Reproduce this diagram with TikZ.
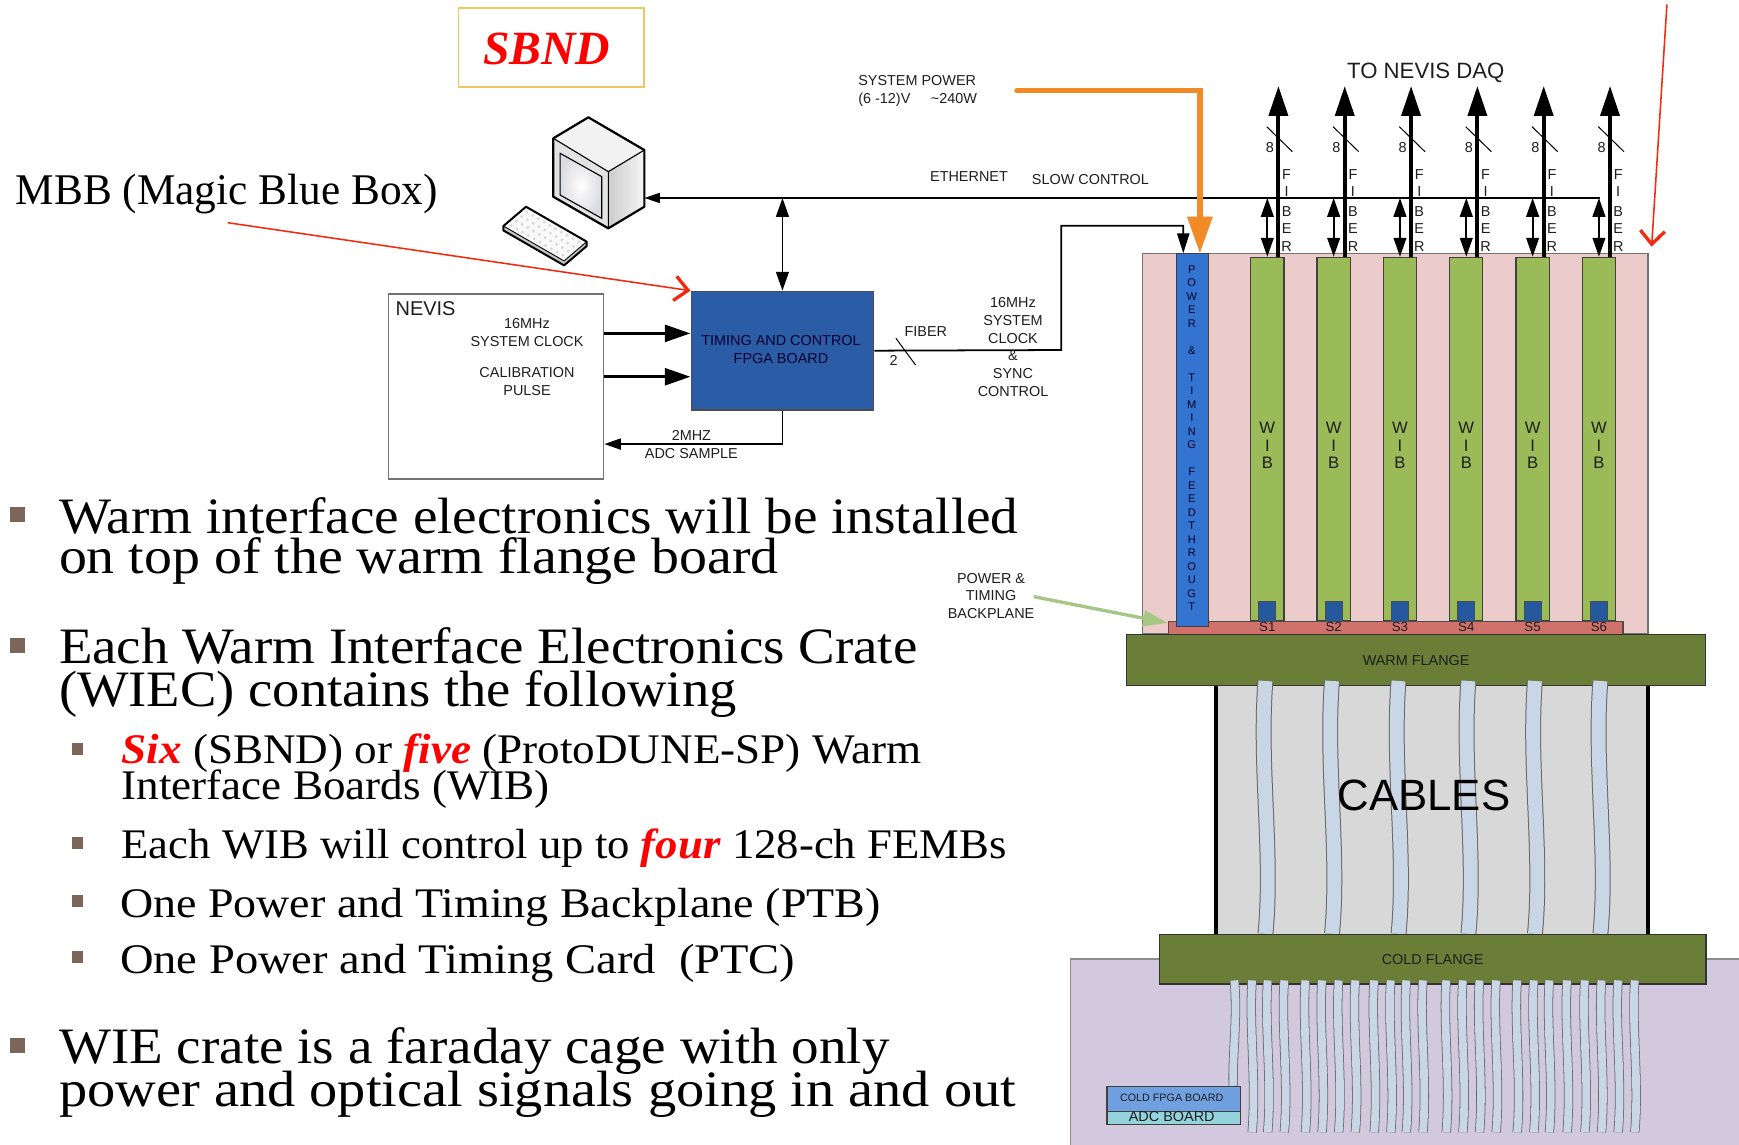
\documentclass[tikz,border=0pt]{standalone}
\usepackage{fontspec}
\setmainfont{Liberation Serif}
\newfontfamily\labfont{Liberation Sans}
\usepackage{graphicx}
\usetikzlibrary{arrows.meta,calc}

\definecolor{bulletc}{HTML}{7E6559}
\definecolor{gold}{HTML}{EFC75E}
\definecolor{tcbblue}{HTML}{2B5DA6}
\definecolor{ptfblue}{HTML}{3274CF}
\definecolor{sqblue}{HTML}{26589E}
\definecolor{wibgreen}{HTML}{9BBB59}
\definecolor{cratepink}{HTML}{ECCBCB}
\definecolor{bpred}{HTML}{D1716B}
\definecolor{flange}{HTML}{6A7E37}
\definecolor{cableboxgray}{HTML}{D8D8D8}
\definecolor{cablefill}{HTML}{C9D6E6}
\definecolor{lav}{HTML}{D3C9DE}
\definecolor{fpgablue}{HTML}{71A0E0}
\definecolor{adccyan}{HTML}{95D3DC}
\definecolor{pwrorange}{HTML}{F28A28}
\definecolor{bpgreen}{HTML}{A6C784}
\definecolor{callred}{HTML}{F42A10}
\definecolor{hot}{HTML}{FF0000}
\definecolor{ink}{HTML}{1E1E1E}

\newcommand\fsz[2]{\fontsize{#1}{#2}\selectfont}
\newcommand\bodyline[5]{\node[anchor=base west,inner sep=0pt] (#1) at (#2) {\fsz{#3}{#3}\resizebox{#4pt}{\height}{#5}};}
\newcommand\redword[1]{\textcolor{hot}{\textbf{\textit{#1}}}}

\begin{document}
\begin{tikzpicture}[x=1pt,y=-1pt,
  box/.style={rectangle,inner sep=0pt,anchor=north west},
  lab/.style={font=\labfont\fsz{13}{16.3},inner sep=0pt,text=ink,align=center},
  etharr/.style={line width=1.5pt,-{Triangle[length=14pt,width=9pt]}},
  dblarr/.style={line width=1.6pt,{Triangle[length=17pt,width=11.5pt]}-{Triangle[length=17pt,width=11.5pt]}},
  linearr/.style={line width=1.6pt,-{Triangle[length=18pt,width=11pt]}},
  adcarr/.style={line width=1.6pt,-{Triangle[length=15pt,width=10pt]}},
  fiberarr/.style={line width=3.6pt,-{Triangle[length=27pt,width=17pt]}},
  fatarr/.style={line width=3pt,-{Triangle[length=23pt,width=15pt]}},
  pwrarr/.style={draw=pwrorange,line width=4.8pt,line cap=round,-{Triangle[length=33pt,width=22pt]}},
  bparr/.style={draw=bpgreen,line width=3pt,-{Triangle[length=22pt,width=14pt]}},
  callout/.style={draw=callred,line width=1.4pt,-{Straight Barb[length=12pt,width=22pt,line width=3pt]}},
  bigcable/.style={draw=black!60,line width=0.9pt,double=cablefill,double distance=12.5pt},
  smallcable/.style={draw=black!60,line width=0.7pt,double=cablefill,double distance=7pt},
  bul/.style={rectangle,fill=bulletc,inner sep=0pt,minimum size=13.5pt},
  sbul/.style={rectangle,fill=bulletc,inner sep=0pt,minimum size=10.5pt}
]
\fill[white] (0,0) rectangle (1568,1032);
\useasboundingbox (0,0) rectangle (1568,1032);

% ---------- title and callout label ----------
\node[box,draw=gold,line width=1.6pt,minimum width=167.4pt,minimum height=70.9pt] (sbndbox) at (412.6,6.6) {};
\node[text=hot,font=\fsz{43}{43}\bfseries\itshape,inner sep=0pt] (sbnd) at (493,44) {SBND};
\bodyline{mbb}{14,184}{39.5}{380.5}{MBB (Magic Blue Box)}

% ---------- workstation ----------
\coordinate (mA) at (498.9,124.7);
\coordinate (mB) at (530.5,105.8);
\coordinate (mC) at (581.0,135.3);
\coordinate (mD) at (548.5,154.8);
\coordinate (mE) at (548.5,205.9);
\coordinate (mF) at (498.9,177.4);
\coordinate (mG) at (581.0,186.4);
\fill[gray!10] (mA) -- (mB) -- (mC) -- (mD) -- cycle;
\shade[left color=gray!40,right color=gray!8] (mD) -- (mC) -- (mG) -- (mE) -- cycle;
\fill[gray!22] (mA) -- (mD) -- (mE) -- (mF) -- cycle;
\shade[inner color=white,outer color=blue!12!gray!25] (505,138.2) -- (542.6,159.3) -- (542.6,196.9) -- (505,175.8) -- cycle;
\draw[line width=1pt] (505,138.2) -- (542.6,159.3) -- (542.6,196.9) -- (505,175.8) -- cycle;
\draw[line width=1pt] (mA) -- (mD) -- (mC) (mD) -- (mE);
\draw[line width=2pt,line join=round] (mA) -- (mB) -- (mC) -- (mG) -- (mE) -- (mF) -- cycle;

\coordinate (kL) at (453.9,203.8);
\coordinate (kT) at (474.3,186.4);
\coordinate (kR) at (529,217.9);
\coordinate (kB) at (508.6,235.3);
\fill[gray!45] (kL) -- (kB) -- (kR) -- ($(kR)+(0,4)$) -- ($(kB)+(0,4)$) -- ($(kL)+(0,4)$) -- cycle;
\fill[gray!5] (kL) -- (kT) -- (kR) -- (kB) -- cycle;
\foreach \i in {0,...,3}{
  \foreach \j in {0,...,9}{
    \pgfmathsetmacro\kx{453.9+(0.15+0.233*\i)*20.4+(0.07+0.095*\j)*54.7}
    \pgfmathsetmacro\ky{203.8-(0.15+0.233*\i)*17.4+(0.07+0.095*\j)*31.5}
    \fill[gray!30] (\kx,\ky) circle (1.5pt);
  }
}
\draw[line width=0.8pt] (kL) -- (kB) -- (kR);
\draw[line width=1.8pt,line join=round] (kL) -- (kT) -- (kR) -- ($(kR)+(0,4)$) -- ($(kB)+(0,4)$) -- ($(kL)+(0,4)$) -- cycle;

% ---------- NEVIS and timing board ----------
\node[box,draw=black!55,line width=1.2pt,minimum width=193.9pt,minimum height=166.8pt] (nevis) at (349.8,264.5) {};
\node[font=\labfont\fsz{18}{18},inner sep=0pt,anchor=west,text=ink] (nevislab) at (356.5,278) {NEVIS};
\node[lab] (clk) at (475.2,299.6) {16MHz\\SYSTEM CLOCK};
\node[lab] (cal) at (475.2,343.9) {CALIBRATION\\PULSE};

\node[box,fill=tcbblue,draw=black!70,line width=1.2pt,minimum width=164.6pt,minimum height=107pt] (tcb) at (622.6,262.1) {};
\node[lab,text=black!80!blue] (tcblab) at (704.2,314.8) {TIMING AND CONTROL\\FPGA BOARD};

\coordinate (ya) at (0,300.6);
\coordinate (yb) at (0,339.7);
\draw[fatarr] (nevis.east |- ya) -- (tcb.west |- ya);
\draw[fatarr] (nevis.east |- yb) -- (tcb.west |- yb);
\coordinate (adcy) at (0,400.4);
\draw[adcarr] (tcb.south) |- (nevis.east |- adcy);
\node[lab] (adclab) at (623.4,400.5) {2MHZ\\ADC SAMPLE};

% ---------- warm interface crate ----------
\node[box,fill=cratepink,draw=black!55,line width=1pt,minimum width=455.4pt,minimum height=342.6pt] (crate) at (1030,228.4) {};
\coordinate (sy) at (0,565.7);
\foreach \k in {1,...,6}{
  \pgfmathsetmacro\wx{1127.2+59.8*(\k-1)}
  \node[box,fill=wibgreen,draw=black!75,line width=1pt,minimum width=30pt,minimum height=328pt] (wib\k) at (\wx,231.4) {};
  \node[fill=sqblue,draw=black!70,line width=0.8pt,minimum width=15.4pt,minimum height=18pt,inner sep=0pt] (sq\k) at ($(wib\k.south)+(0,-8.8)$) {};
  \node[font=\labfont\fsz{15}{15},inner sep=0pt,text=ink] (wibw\k) at ($(wib\k.north)+(0,154.1)$) {W};
  \node[font=\labfont\fsz{15}{15},inner sep=0pt,text=ink] (wibi\k) at ($(wib\k.north)+(0,170.1)$) {I};
  \node[font=\labfont\fsz{15}{15},inner sep=0pt,text=ink] (wibb\k) at ($(wib\k.north)+(0,186.1)$) {B};
}
\node[box,fill=bpred,draw=black!70,line width=1pt,minimum width=410.2pt,minimum height=12.9pt] (bp) at (1052.7,559.7) {};
\foreach \k in {1,...,6}{
  \node[font=\labfont\fsz{12}{12},inner sep=0pt,text=ink] (slot\k) at (wib\k.south |- sy) {S\k};
}
\node[box,fill=ptfblue,draw=black!75,line width=1pt,minimum width=29.4pt,minimum height=336.1pt] (ptf) at (1059.9,228.4) {};
\foreach \c [count=\i from 0] in {P,O,W,E,R,,\&,,T,I,M,I,N,G,,F,E,E,D,T,H,R,O,U,G,T}{
  \pgfmathsetmacro\ly{243+12.17*\i}
  \node[font=\labfont\fsz{10}{10},inner sep=0pt,text=black!85!blue] (ptfl\i) at (1074.6,\ly) {\c};
}

% ---------- flanges and cables ----------
\fill[lav] (965.6,864.7) rectangle (1580,1040);
\draw[black!45,line width=1pt] (965.6,1040) |- (1580,864.7);
\node[box,fill=cableboxgray,minimum width=389.4pt,minimum height=223.9pt] (cbox) at (1096.4,617.7) {};
\draw[line width=3.5pt] (cbox.north west) -- (cbox.south west);
\draw[line width=3.5pt] (cbox.north east) -- (cbox.south east);
\node[box,fill=flange,draw=black!80,line width=1pt,minimum width=522.4pt,minimum height=45.7pt,font=\labfont\fsz{13}{13},text=ink] (warm) at (1015.2,572) {WARM FLANGE};
\foreach \x in {1141,1201,1261,1324,1384,1443}{
  \draw[bigcable] (\x,614) .. controls (\x-6,690) and (\x+7,770) .. (\x,842);
}
\node[box,fill=flange,draw=black!80,line width=1pt,minimum width=492.9pt,minimum height=44.5pt,font=\labfont\fsz{13}{13},text=ink] (cold) at (1044.8,842.2) {COLD FLANGE};
\draw[smallcable] (1113,884) .. controls (1116,920) and (1111,950) .. (1112,979);
\foreach \x in {1129,1143,1158,1177,1192,1207,1222,1239,1254,1268,1283,1304,1319,1334,1349,1368,1383,1397,1413,1429,1444,1459,1474}{
  \draw[smallcable] (\x,884) .. controls (\x-3,925) and (\x+4,975) .. (\x,1021);
}
\node[box,fill=fpgablue,draw=black!75,line width=1pt,minimum width=120.3pt,minimum height=22.2pt] (fpga) at (997.6,979.3) {};
\node[box,fill=adccyan,draw=black!75,line width=1pt,minimum width=120.3pt,minimum height=12pt] (adc) at (997.6,1001.5) {};
\node[font=\labfont\fsz{9.7}{9.7},inner sep=0pt,text=ink] (fpgalab) at (1056.5,989.8) {COLD FPGA BOARD};
\node[font=\labfont\fsz{13}{13},inner sep=0pt,text=ink] (adclab2) at (1056.5,1006.3) {ADC BOARD};
\node[font=\labfont\fsz{39.5}{39.5},inner sep=0pt,text=black] (cables) at (1283.9,717.5) {CABLES};

% ---------- connections ----------
\coordinate (pc) at (581,178.5);
\coordinate (ethend) at (1442.2,178.5);
\draw[etharr] (ethend) -- (pc);
\node[lab] (ethlab) at (873.7,159.3) {ETHERNET};
\node[lab] (slowlab) at (983.2,161.7) {SLOW CONTROL};
\draw[dblarr] (tcb.north |- pc) -- (tcb.north);

\draw[linearr] (tcb.east) -- (956.8,315.6) -- (956.8,203.5) -| ([xshift=7pt]ptf.north west);
\node[lab] (fiblab) at (834.8,299) {FIBER};
\node[lab] (two) at (805.8,325.2) {2};
\draw[line width=0.9pt] (807.8,305) -- (825.5,329.1);
\node[lab,font=\labfont\fsz{13}{16.1}] (synclab) at (913.4,312.9) {16MHz\\SYSTEM\\CLOCK\\\&\\SYNC\\CONTROL};

\coordinate (pwrsrc) at (916.9,81.8);
\draw[pwrarr] (pwrsrc) -| ([xshift=22pt]ptf.north west);
\node[lab,align=left,anchor=west] (pwrlab) at (773.7,81.7) {SYSTEM POWER\\(6 -12)V\hspace{18.5pt}\textasciitilde240W};

\foreach \k in {1,...,6}{
  \draw[dblarr] (wib\k.north |- pc) -- (wib\k.north);
  \draw[fiberarr] ([xshift=10pt]wib\k.north) -- ++(0,-153.9);
  \draw[line width=0.9pt] ($(wib\k.north)+(-0.6,-117.2)$) -- ++(23.2,22.6);
  \node[lab] (eight\k) at ($(wib\k.north)+(2.4,-98.6)$) {8};
  \node[lab] (fibf\k) at ($(wib\k.north)+(17.4,-73.6)$) {F};
  \node[lab] (fibi\k) at ($(wib\k.north)+(17.4,-58.6)$) {I};
  \node[lab] (fibb\k) at ($(wib\k.north)+(17.4,-40.5)$) {B};
  \node[lab] (fibe\k) at ($(wib\k.north)+(17.4,-25.5)$) {E};
  \node[lab] (fibr\k) at ($(wib\k.north)+(17.4,-9)$) {R};
}
\node[lab,font=\labfont\fsz{20}{20}] (daq) at (1285.6,65.5) {TO NEVIS DAQ};

\node[lab,font=\labfont\fsz{13}{15.75}] (bplab) at (893.6,537.2) {POWER \&\\TIMING\\BACKPLANE};
\coordinate (bptail) at (932.2,538);
\draw[bparr] (bptail) -- ([yshift=-2pt]bp.north west);

\coordinate (mbbtail) at (205.3,200.8);
\draw[callout] (mbbtail) -- (tcb.north west);
\coordinate (rtop) at (1503,4);
\coordinate (rtip) at (1489.2,222.4);
\draw[callout] (rtop) -- (rtip);

% ---------- bullet text ----------
\node[bul] (b1) at (15.75,464) {};
\node[bul] (b2) at (15.75,582) {};
\node[bul] (b3) at (15.75,942.5) {};
\node[sbul] (s1) at (70,675.5) {};
\node[sbul] (s2) at (70,760) {};
\node[sbul] (s3) at (70,812.5) {};
\node[sbul] (s4) at (70,863) {};

\bodyline{t1}{53,481}{46}{865}{Warm interface electronics will be installed}
\bodyline{t2}{53,517}{46}{649}{on top of the warm flange board}
\bodyline{t3}{53,598}{46}{774}{Each Warm Interface Electronics Crate}
\bodyline{t4}{53,637}{46}{611}{(WIEC) contains the following}
\bodyline{t5}{109.5,688}{38}{721}{\redword{Six} (SBND) or \redword{five} (ProtoDUNE-SP) Warm}
\bodyline{t6}{109.5,721}{38}{386}{Interface Boards (WIB)}
\bodyline{t7}{109.5,774}{38}{798}{Each WIB will control up to \redword{four} 128-ch FEMBs}
\bodyline{t8}{108,827}{38}{686}{One Power and Timing Backplane (PTB)}
\bodyline{t9}{108,878}{38}{609}{One Power and Timing Card~~(PTC)}
\bodyline{t10}{53,959}{46}{749}{WIE crate is a faraday cage with only}
\bodyline{t11}{53,998}{46}{863}{power and optical signals going in and out}
\end{tikzpicture}
\end{document}
